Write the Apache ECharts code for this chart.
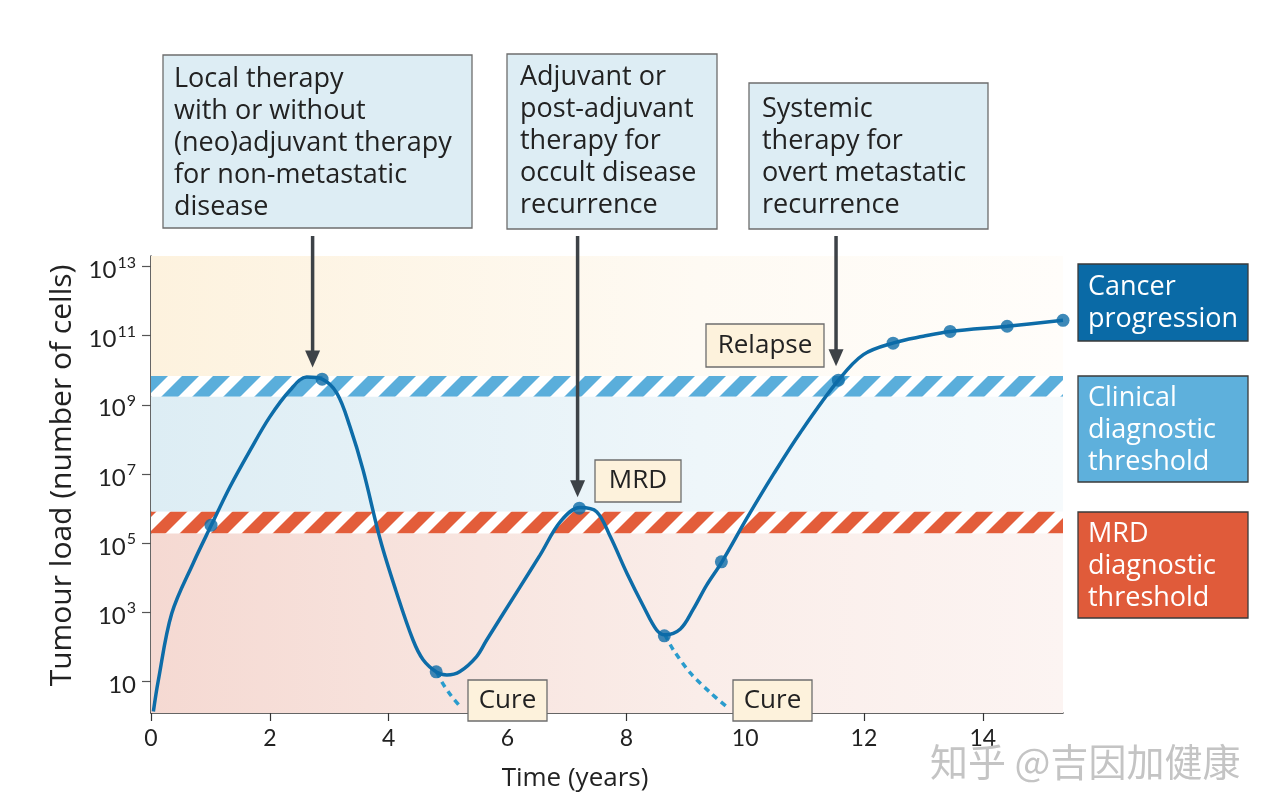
<!DOCTYPE html>
<html><head><meta charset="utf-8">
<script src="https://cdn.jsdelivr.net/npm/echarts@6/dist/echarts.min.js"></script>
<style>html,body{margin:0;padding:0;background:#fff}#c{width:1273px;height:812px}</style>
</head><body><div id="c"></div>
<script>
const FONT = '"Open Sans", "Noto Sans", sans-serif';
const TICKFONT = 'Lato, "Open Sans", sans-serif';

// ---- data (time in years, tumour load as log10 of number of cells) ----
const curveTime = [0.04,0.12,0.35,0.71,1.01,1.33,1.67,2.00,2.34,2.62,2.88,3.13,3.35,3.57,3.86,4.12,4.41,4.58,4.81,4.98,5.20,5.48,5.65,6.21,6.55,6.89,7.22,7.50,7.73,8.01,8.29,8.51,8.65,8.91,9.13,9.35,9.61,10.03,10.48,10.93,11.57,11.99,12.50,13.00,13.45,14.41,15.35];
const curveLog  = [0.13,1.00,2.97,4.42,5.50,6.63,7.69,8.65,9.42,9.80,9.74,9.33,8.36,7.11,5.09,3.64,2.20,1.63,1.27,1.19,1.29,1.72,2.20,3.73,4.66,5.62,6.03,5.91,5.19,4.13,3.17,2.49,2.35,2.52,3.10,3.78,4.46,5.72,7.00,8.20,9.71,10.45,10.79,10.98,11.12,11.27,11.44];
const markerTime = [1.01,2.88,4.80,7.21,8.64,9.60,11.57,12.49,13.45,14.41,15.35];
const markerLog  = [5.52,9.74,1.28,6.01,2.32,4.46,9.71,10.78,11.12,11.27,11.44];
const cure1Time = [4.81,4.89,5.06,5.23];
const cure1Log  = [1.27,1.00,0.57,0.23];
const cure2Time = [8.65,8.79,9.08,9.42,9.72];
const cure2Log  = [2.35,1.92,1.24,0.67,0.23];
const clinicalBand = [9.23, 9.83];
const mrdBand = [5.28, 5.91];
const arrowTime = [2.72, 7.18, 11.53];
const arrowTipLog = [10.08, 6.33, 10.11];
const xTicks = [0,2,4,6,8,10,12,14];
const yTickExp = [1,3,5,7,9,11,13];
const xMin = 0, xMax = 15.35, yMin = 0.09, yMax = 13.3;

const zip = (a,b) => a.map((v,i)=>[v,b[i]]);

function stripes(color){
  const P=31, c=document.createElement('canvas'); c.width=P; c.height=P;
  const g=c.getContext('2d'); g.fillStyle='#fff'; g.fillRect(0,0,P,P);
  g.fillStyle=color; const w=17;
  for (let k=-1;k<=0;k++){ const o=k*P;
    g.beginPath(); g.moveTo(o,P); g.lineTo(o+w,P); g.lineTo(o+w+P,0); g.lineTo(o+P,0); g.closePath(); g.fill(); }
  return c;
}
const grad = (a,m,b) => new echarts.graphic.LinearGradient(0,0,1,0,[{offset:0,color:a},{offset:0.6,color:m},{offset:1,color:b}]);

const chart = echarts.init(document.getElementById('c'), null, {renderer:'canvas'});
const option = {
  animation:false,
  backgroundColor:'#fff',
  grid:{left:151, right:210, top:256, bottom:99},
  xAxis:{type:'value', min:xMin, max:xMax,
    name:'Time (years)', nameLocation:'middle', nameGap:53,
    nameTextStyle:{fontFamily:FONT, fontSize:26, color:'#222', padding:[0,64,0,0]},
    axisLine:{lineStyle:{color:'#333', width:1.5}},
    axisTick:{customValues:xTicks, length:8, lineStyle:{color:'#333', width:1.2}},
    axisLabel:{customValues:xTicks, margin:14, fontFamily:TICKFONT, fontSize:23, color:'#222'},
    splitLine:{show:false}},
  yAxis:{type:'value', min:yMin, max:yMax,
    name:'Tumour load (number of cells)', nameLocation:'middle', nameGap:74,
    nameTextStyle:{fontFamily:FONT, fontSize:30, color:'#222', padding:[0,0,0,18]},
    axisLine:{lineStyle:{color:'#333', width:1.5}},
    axisTick:{customValues:yTickExp, length:9, lineStyle:{color:'#555', width:1.2}},
    axisLabel:{customValues:yTickExp, margin:15,
      formatter: v => { const n=Math.round(v); return n===1 ? '{b|10}' : '{b|10}{s|'+n+'}'; },
      rich:{ b:{fontFamily:TICKFONT, fontSize:24, color:'#222', padding:[8,0,0,0]},
             s:{fontFamily:TICKFONT, fontSize:16, color:'#222', padding:[0,0,8,1]} }},
    splitLine:{show:false}},
  series:[
    {type:'line', data:[], z:1, silent:true,
      markArea:{silent:true, data:[
        [{xAxis:xMin, yAxis:clinicalBand[1], itemStyle:{color:grad('#fdf2de','#fefaf3','#fffdfa')}},{xAxis:xMax, yAxis:yMax}],
        [{xAxis:xMin, yAxis:clinicalBand[0], itemStyle:{color:{image:stripes('#5aaedb'), repeat:'repeat'}}},{xAxis:xMax, yAxis:clinicalBand[1]}],
        [{xAxis:xMin, yAxis:mrdBand[1], itemStyle:{color:grad('#ddedf4','#eef6fa','#f6fafc')}},{xAxis:xMax, yAxis:clinicalBand[0]}],
        [{xAxis:xMin, yAxis:mrdBand[0], itemStyle:{color:{image:stripes('#e35d3a'), repeat:'repeat'}}},{xAxis:xMax, yAxis:mrdBand[1]}],
        [{xAxis:xMin, yAxis:yMin, itemStyle:{color:grad('#f5d9d2','#faede9','#fcf4f2')}},{xAxis:xMax, yAxis:mrdBand[0]}]
      ]}},
    {type:'line', data:zip(cure1Time,cure1Log), smooth:0.3, showSymbol:false, z:3, clip:false,
      lineStyle:{color:'#2a9ccd', width:3.5, type:[6,5]}},
    {type:'line', data:zip(cure2Time,cure2Log), smooth:0.3, showSymbol:false, z:3, clip:false,
      lineStyle:{color:'#2a9ccd', width:3.5, type:[6,5]}},
    {type:'line', data:zip(curveTime,curveLog), smooth:0.35, showSymbol:false, z:4, clip:false,
      lineStyle:{color:'#0d6ca8', width:3.5}},
    {type:'scatter', data:zip(markerTime,markerLog), symbolSize:13, z:5, clip:false,
      itemStyle:{color:'#0d6ca8'}}
  ]
};
chart.setOption(option);

// ---- annotations ----
const g = [];
function box(x,y,w,h,fill,stroke){ g.push({type:'rect', shape:{x,y,width:w,height:h}, style:{fill, stroke, lineWidth:1.3}, z:10}); }
function txt(x,y,text,opts){ g.push({type:'text', x, y, z:11, style:Object.assign({text, font:'27px '+FONT, fill:'#222', lineHeight:32, verticalAlign:'top', align:'left'}, opts||{})}); }

box(163,55,309,173,'#ddedf4','#6d6d6d');
txt(174,63,'Local therapy\nwith or without\n(neo)adjuvant therapy\nfor non-metastatic\ndisease');
box(507,54,210,175,'#ddedf4','#6d6d6d');
txt(520,61,'Adjuvant or\npost-adjuvant\ntherapy for\noccult disease\nrecurrence');
box(749,83,239,146,'#ddedf4','#6d6d6d');
txt(762,93,'Systemic\ntherapy for\novert metastatic\nrecurrence');

// arrows to curve
arrowTime.forEach((t,i)=>{
  const p = chart.convertToPixel({gridIndex:0},[t,arrowTipLog[i]]);
  g.push({type:'line', shape:{x1:p[0], y1:236, x2:p[0], y2:p[1]-10}, style:{stroke:'#3d4247', lineWidth:3.5}, z:12});
  g.push({type:'polygon', shape:{points:[[p[0]-7.5,p[1]-17],[p[0]+7.5,p[1]-17],[p[0],p[1]]]}, style:{fill:'#3d4247'}, z:12});
});

// in-plot labels
function label(x,y,w,h,text){
  box(x,y,w,h,'#fdf2dc','#6d6d6d');
  g.push({type:'text', x:x+w/2, y:y+h/2, z:11, style:{text, font:'26px '+FONT, fill:'#222', align:'center', verticalAlign:'middle'}});
}
label(706,324,118,43,'Relapse');
label(595,460,86,42,'MRD');
label(468,680,79,41,'Cure');
label(733,680,79,41,'Cure');

// right-hand key
box(1078,264,170,77,'#0a6aa6','#3a3a3a');
txt(1088,271,'Cancer\nprogression',{fill:'#fff'});
box(1078,376,170,106,'#5eb0dc','#3a3a3a');
txt(1088,382,'Clinical\ndiagnostic\nthreshold',{fill:'#fff'});
box(1078,512,170,106,'#e05b3a','#3a3a3a');
txt(1088,518,'MRD\ndiagnostic\nthreshold',{fill:'#fff'});

// watermark
g.push({type:'text', x:930, y:762, z:11, style:{text:'知乎 @吉因加健康', font:'38px "Noto Sans CJK SC"', fill:'#c4c4c4', verticalAlign:'middle', align:'left'}});

chart.setOption({graphic:g});
</script></body></html>
